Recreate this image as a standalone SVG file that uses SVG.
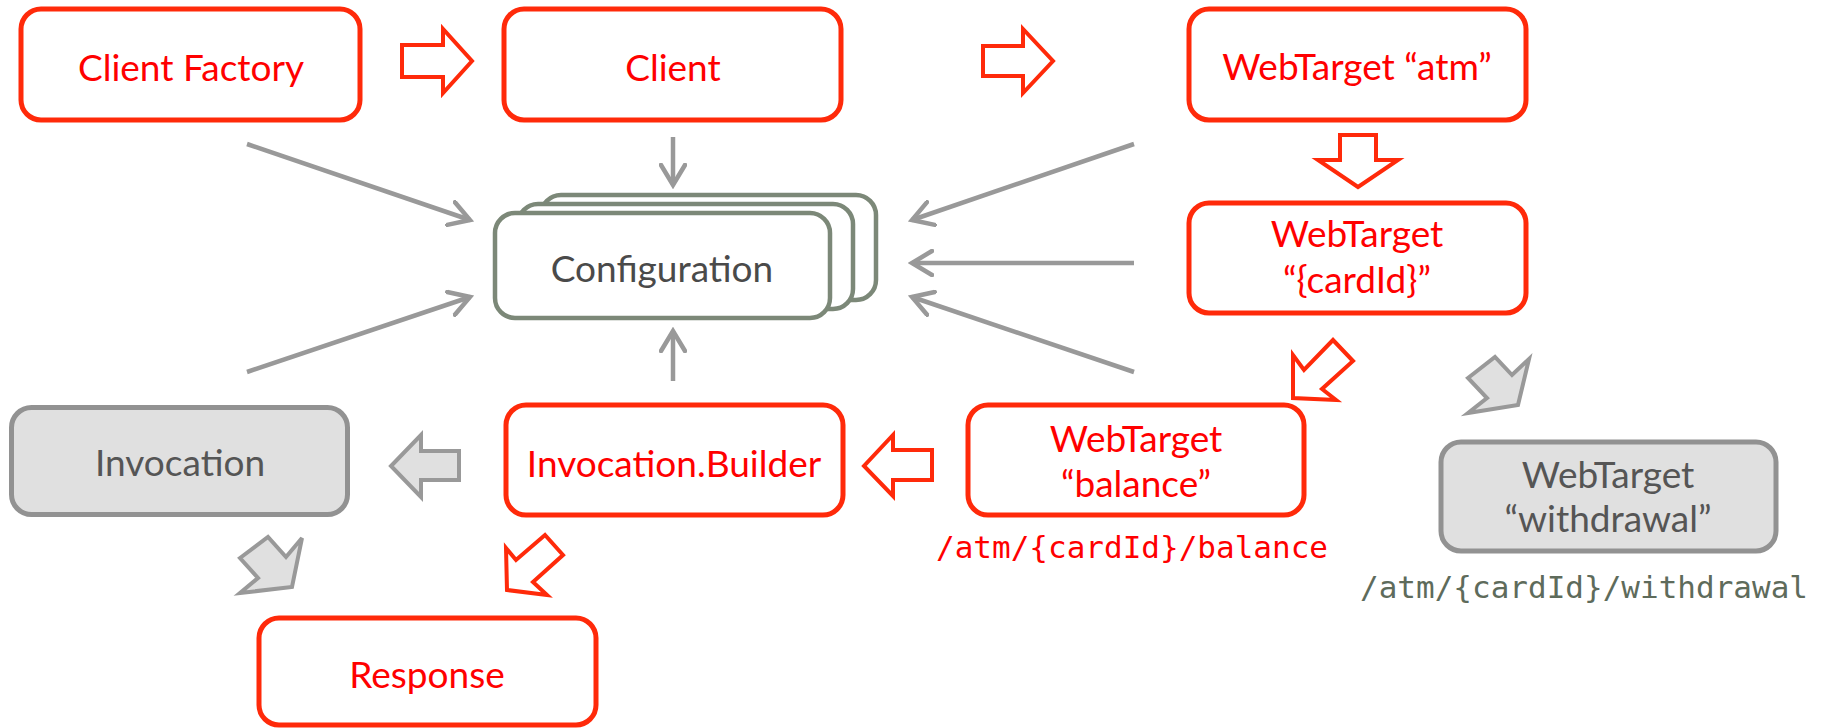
<svg xmlns="http://www.w3.org/2000/svg" width="1823" height="728" viewBox="0 0 1823 728">
  <style>
    .box-red { fill: #ffffff; stroke: #ff2a0a; stroke-width: 5; }
    .box-gray { fill: #e0e0e0; stroke: #929292; stroke-width: 5; }
    .box-cfg { fill: #ffffff; stroke: #7c8878; stroke-width: 4.5; }
    .lbl { font-family: Lato, "Open Sans", sans-serif; font-size: 37px; text-anchor: middle; }
    .lbl-red { fill: #ff0000; }
    .lbl-gray { fill: #555555; }
    .lbl-cfg { fill: #4a4a4a; }
    .path-txt { font-family: "DejaVu Sans Mono", "Liberation Mono", monospace; font-size: 31px; text-anchor: middle; }
    .conn { stroke: #999999; stroke-width: 4.5; fill: none; marker-end: url(#chev); }
    .flow-red { fill: #ffffff; stroke: #ff2a0a; stroke-width: 4; stroke-linejoin: miter; }
    .flow-gray { fill: #e0e0e0; stroke: #999999; stroke-width: 4; stroke-linejoin: miter; }
  </style>
  <defs>
    <marker id="chev" viewBox="0 0 26 28" refX="22" refY="14" markerWidth="26" markerHeight="28" markerUnits="userSpaceOnUse" orient="auto">
      <path d="M2,2 L22,14 L2,26" fill="none" stroke="#999999" stroke-width="4.5" stroke-linecap="round" stroke-linejoin="miter"/>
    </marker>
  </defs>

  <rect width="1823" height="728" fill="#ffffff"/>

  <!-- connectors into the shared configuration -->
  <g id="connectors">
    <line class="conn" x1="247" y1="144" x2="470" y2="220"/>
    <line class="conn" x1="673" y1="137" x2="673" y2="185"/>
    <line class="conn" x1="247" y1="372" x2="470" y2="297"/>
    <line class="conn" x1="673" y1="381" x2="673" y2="331"/>
    <line class="conn" x1="1134" y1="144" x2="912" y2="220"/>
    <line class="conn" x1="1134" y1="263" x2="912" y2="263"/>
    <line class="conn" x1="1134" y1="372" x2="912" y2="297"/>

    <!-- hollow flow arrows -->
    <polygon class="flow-red" points="402,45 443,45 443,29 472,61 443,93 443,77 402,77"/>
    <polygon class="flow-red" points="983,46 1023,46 1023,29 1053,61 1023,93 1023,76 983,76"/>
    <polygon class="flow-red" points="1340,135 1376,135 1376,160 1398,160 1358,187 1318,160 1340,160"/>
    <polygon class="flow-red" points="1293,398 1293,355 1304,370 1333,340 1353,361 1322,389 1336,400"/>
    <polygon class="flow-red" points="932,450 893,450 893,435 864,466 893,496 893,480 932,480"/>
    <polygon class="flow-red" points="507,590 506,548 516,560 545,535 563,555 533,582 547,595"/>
    <polygon class="flow-gray" points="459,451 421,451 421,435 391,466 421,497 421,480 459,480"/>
    <polygon class="flow-gray" points="1468,378 1495,357 1512,375 1529,359 1518,405 1468,413 1487,398"/>
    <polygon class="flow-gray" points="240,558 268,537 286,557 302,538 292,587 240,593 258,578"/>
  </g>

  <g id="client-factory">
    <rect class="box-red" x="21" y="9" width="339" height="111" rx="20"/>
    <text class="lbl lbl-red" x="191" y="81">Client Factory</text>
  </g>

  <g id="client">
    <rect class="box-red" x="504" y="9" width="337" height="111" rx="20"/>
    <text class="lbl lbl-red" x="673" y="81">Client</text>
  </g>

  <g id="webtarget-atm">
    <rect class="box-red" x="1189" y="9" width="337" height="111" rx="20"/>
    <text class="lbl lbl-red" x="1357" y="80">WebTarget “atm”</text>
  </g>

  <g id="webtarget-cardid">
    <rect class="box-red" x="1189" y="203" width="337" height="110" rx="20"/>
    <text class="lbl lbl-red" x="1357" y="247">WebTarget</text>
    <text class="lbl lbl-red" x="1357" y="293">“{cardId}”</text>
  </g>

  <g id="configuration">
    <rect class="box-cfg" x="541" y="195" width="335" height="105" rx="20"/>
    <rect class="box-cfg" x="518" y="204" width="335" height="105" rx="20"/>
    <rect class="box-cfg" x="495" y="213" width="335" height="105" rx="20"/>
    <text class="lbl lbl-cfg" x="662" y="282">Configuration</text>
  </g>

  <g id="invocation">
    <rect class="box-gray" x="11.5" y="407.5" width="336" height="107" rx="20"/>
    <text class="lbl lbl-gray" x="180" y="476">Invocation</text>
  </g>

  <g id="invocation-builder">
    <rect class="box-red" x="506" y="405" width="337" height="110" rx="20"/>
    <text class="lbl lbl-red" x="674" y="477">Invocation.Builder</text>
  </g>

  <g id="webtarget-balance">
    <rect class="box-red" x="968" y="405" width="336" height="110" rx="20"/>
    <text class="lbl lbl-red" x="1136" y="452">WebTarget</text>
    <text class="lbl lbl-red" x="1136" y="497">“balance”</text>
    <text class="path-txt" x="1132" y="558" fill="#ff0000">/atm/{cardId}/balance</text>
  </g>

  <g id="webtarget-withdrawal">
    <rect class="box-gray" x="1441" y="442" width="335" height="109" rx="20"/>
    <text class="lbl lbl-gray" x="1608" y="488">WebTarget</text>
    <text class="lbl lbl-gray" x="1608" y="532">“withdrawal”</text>
    <text class="path-txt" x="1584" y="598" fill="#5e6b5b">/atm/{cardId}/withdrawal</text>
  </g>

  <g id="response">
    <rect class="box-red" x="259" y="618" width="337" height="107" rx="20"/>
    <text class="lbl lbl-red" x="427" y="688">Response</text>
  </g>
</svg>
